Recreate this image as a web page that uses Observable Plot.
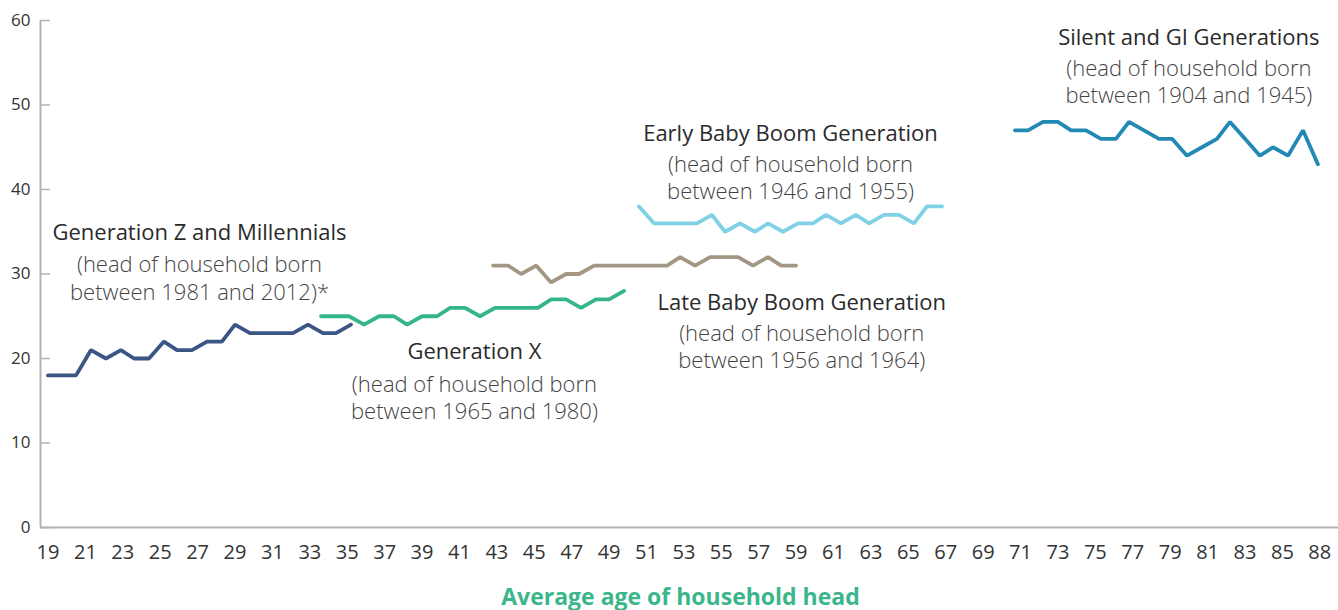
<!DOCTYPE html>
<html><head><meta charset="utf-8">
<script src="https://cdn.jsdelivr.net/npm/d3@7"></script>
<script src="https://cdn.jsdelivr.net/npm/@observablehq/plot@0.6"></script>
<style>
body{margin:0;background:#fff;font-family:"Open Sans",sans-serif}
</style>
</head><body><div id="chart"></div>
<script>
// Average age of household head (x) and value (y) for each generation
const genZAge   = [19.0,19.8,20.5,21.3,22.1,22.9,23.6,24.4,25.2,25.9,26.7,27.5,28.3,29.0,29.8,30.6,31.4,32.1,32.9,33.7,34.4,35.2];
const genZValue = [18,18,18,21,20,21,20,20,22,21,21,22,22,24,23,23,23,23,24,23,23,24];

const genXAge   = [33.6,34.4,35.1,35.9,36.7,37.5,38.2,39.0,39.8,40.5,41.3,42.1,42.9,43.6,44.4,45.2,45.9,46.7,47.5,48.3,49.0,49.8];
const genXValue = [25,25,25,24,25,25,24,25,25,26,26,25,26,26,26,26,27,27,26,27,27,28];

const lateBoomAge   = [42.8,43.6,44.3,45.1,45.9,46.7,47.4,48.2,49.0,49.7,50.5,51.3,52.1,52.8,53.6,54.4,55.1,55.9,56.7,57.5,58.2,59.0];
const lateBoomValue = [31,31,30,31,29,30,30,31,31,31,31,31,31,32,31,32,32,32,31,32,31,31];

const earlyBoomAge   = [50.6,51.4,52.1,52.9,53.7,54.5,55.2,56.0,56.8,57.5,58.3,59.1,59.9,60.6,61.4,62.2,62.9,63.7,64.5,65.3,66.0,66.8];
const earlyBoomValue = [38,36,36,36,36,37,35,36,35,36,35,36,36,37,36,37,36,37,37,36,38,38];

const silentAge   = [70.7,71.4,72.2,73.0,73.7,74.5,75.3,76.1,76.8,77.6,78.4,79.1,79.9,80.7,81.5,82.2,83.0,83.8,84.5,85.3,86.1,86.9];
const silentValue = [47,47,48,48,47,47,46,46,48,47,46,46,44,45,46,48,46,44,45,44,47,43];

const xTickValues = [19,21,23,25,27,29,31,33,35,37,39,41,43,45,47,49,51,53,55,57,59,61,63,65,67,69,71,73,75,77,79,81,83,85,87];
const xTickLabels = ["19","21","23","25","27","29","31","33","35","37","39","41","43","45","47","49","51","53","55","57","59","61","63","65","67","69","71","73","75","77","79","81","83","85","88"];
const yTicks = [0,10,20,30,40,50,60];

const seriesNames = ["Generation Z and Millennials","Generation X","Late Baby Boom Generation","Early Baby Boom Generation","Silent and GI Generations"];
const seriesColors = ["#3b5584","#35b688","#a39683","#80d1e6","#2289b5"];
const seriesSubtitles = [
  "(head of household born\nbetween 1981 and 2012)*",
  "(head of household born\nbetween 1965 and 1980)",
  "(head of household born\nbetween 1956 and 1964)",
  "(head of household born\nbetween 1946 and 1955)",
  "(head of household born\nbetween 1904 and 1945)"
];
const xTitle = "Average age of household head";

// build table
const ages = [genZAge, genXAge, lateBoomAge, earlyBoomAge, silentAge];
const vals = [genZValue, genXValue, lateBoomValue, earlyBoomValue, silentValue];
const rows = [];
seriesNames.forEach((name, i) => {
  ages[i].forEach((a, j) => rows.push({series: name, age: a, value: vals[i][j]}));
});

// annotation anchors (data coordinates)
const notes = [
  {series: seriesNames[0], x: 27.1, yTitle: 34.85, ySub: 29.6},
  {series: seriesNames[1], x: 41.8, yTitle: 20.75, ySub: 15.5},
  {series: seriesNames[2], x: 59.3, yTitle: 26.55, ySub: 21.5},
  {series: seriesNames[3], x: 58.7, yTitle: 46.55, ySub: 41.5},
  {series: seriesNames[4], x: 80.0, yTitle: 57.95, ySub: 52.9}
].map((d, i) => ({...d, sub: seriesSubtitles[i]}));

const chart = Plot.plot({
  width: 1338,
  height: 610,
  marginLeft: 40,
  marginRight: 0,
  marginTop: 20,
  marginBottom: 83,
  style: {fontFamily: "'Open Sans', sans-serif", background: "#fff"},
  x: {domain: [18.6, 88]},
  y: {domain: [0, 60]},
  color: {domain: seriesNames, range: seriesColors},
  marks: [
    Plot.ruleX([18.6], {stroke: "#b3b3b3", strokeWidth: 2}),
    Plot.ruleY([0], {stroke: "#b3b3b3", strokeWidth: 2}),
    Plot.axisY({ticks: yTicks, tickSize: -10, tickPadding: 20, stroke: "#b3b3b3", strokeWidth: 1.5, fill: "#333", fontSize: 17, label: null}),
    Plot.axisX({ticks: xTickValues, tickSize: 0, tickPadding: 17, tickFormat: d => xTickLabels[xTickValues.indexOf(d)], fill: "#333", fontSize: 20, label: null}),
    Plot.line(rows, {x: "age", y: "value", z: "series", stroke: "series", strokeWidth: 3.8, strokeLinejoin: "miter", curve: "linear"}),
    Plot.text(notes, {x: "x", y: "yTitle", text: "series", fill: "#2a2a2a", fontSize: 22, fontWeight: 500}),
    Plot.text(notes, {x: "x", y: "ySub", text: "sub", fill: "#444", fontSize: 22, fontWeight: 300, lineHeight: 1.25}),
    Plot.text([xTitle], {frameAnchor: "bottom", dy: 77, dx: -9, fill: "#3bb58a", fontSize: 23, fontWeight: 700})
  ]
});
document.getElementById("chart").appendChild(chart);
</script>
</body></html>
